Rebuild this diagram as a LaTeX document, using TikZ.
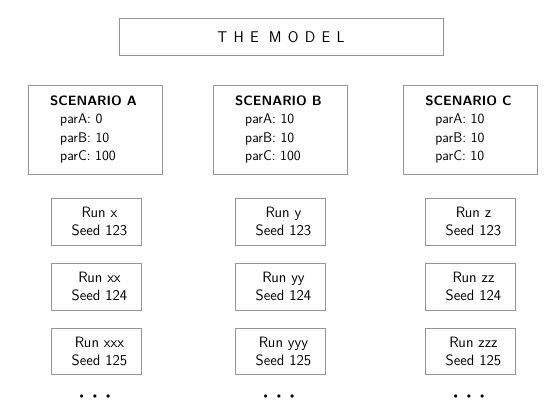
\documentclass[tikz,border=0pt]{standalone}
\definecolor{boxgray}{RGB}{150,150,150}
\begin{document}
\begin{tikzpicture}[x=1pt,y=-1pt,
  box/.style={draw=boxgray,line width=0.9pt,inner sep=0pt},
  titlebox/.style={box,minimum width=324pt,minimum height=37.5pt,font=\sffamily\fontsize{15.5}{18}\selectfont},
  scenbox/.style={box,minimum width=134pt,minimum height=89pt,align=left,font=\sffamily\fontsize{14}{18.5}\selectfont},
  runbox/.style={box,minimum width=90pt,minimum height=46.7pt,align=center,font=\sffamily\fontsize{15}{17.7}\selectfont},
  dots/.style={inner sep=0pt,font=\fontsize{8}{8}\selectfont}]
\useasboundingbox (0,0) rectangle (556,412);
\newcommand{\ls}{\kern6.3pt}
\newcommand{\sh}{\hspace*{7pt}}
\newcommand{\sct}[1]{{\fontsize{13.5}{18.5}\selectfont\textbf{#1}}\hspace*{3pt}}
\node[titlebox] (model) at (281,37.2) {T\ls H\ls E\hspace{10pt}M\ls O\ls D\ls E\ls L};

\node[scenbox] (scA) at (95,129.5) {\sct{SCENARIO A}\\\hspace{10pt}parA: 0\\\hspace{10pt}parB: 10\\\hspace{10pt}parC: 100};
\node[scenbox] (scB) at (280,129.5) {\sct{SCENARIO B}\\\hspace{10pt}parA: 10\\\hspace{10pt}parB: 10\\\hspace{10pt}parC: 100};
\node[scenbox] (scC) at (470,129.5) {\sct{SCENARIO C}\\\hspace{10pt}parA: 10\\\hspace{10pt}parB: 10\\\hspace{10pt}parC: 10};

\node[runbox] (x1) at (96,221.7) {\sh Run x\\\sh Seed 123};
\node[runbox] (x2) at (96,286.7) {\sh Run xx\\\sh Seed 124};
\node[runbox] (x3) at (96,351.3) {\sh Run xxx\\\sh Seed 125};
\node[runbox] (y1) at (280,221.7) {\sh Run y\\\sh Seed 123};
\node[runbox] (y2) at (280,286.7) {\sh Run yy\\\sh Seed 124};
\node[runbox] (y3) at (280,351.3) {\sh Run yyy\\\sh Seed 125};
\node[runbox] (z1) at (470,221.7) {\sh Run z\\\sh Seed 123};
\node[runbox] (z2) at (470,286.7) {\sh Run zz\\\sh Seed 124};
\node[runbox] (z3) at (470,351.3) {\sh Run zzz\\\sh Seed 125};

\node[dots] (dA) at (95,396.7) {$\bullet$\hspace{9pt}$\bullet$\hspace{9pt}$\bullet$};
\node[dots] (dB) at (279,396.7) {$\bullet$\hspace{9pt}$\bullet$\hspace{9pt}$\bullet$};
\node[dots] (dC) at (469,396.7) {$\bullet$\hspace{9pt}$\bullet$\hspace{9pt}$\bullet$};
\end{tikzpicture}
\end{document}
